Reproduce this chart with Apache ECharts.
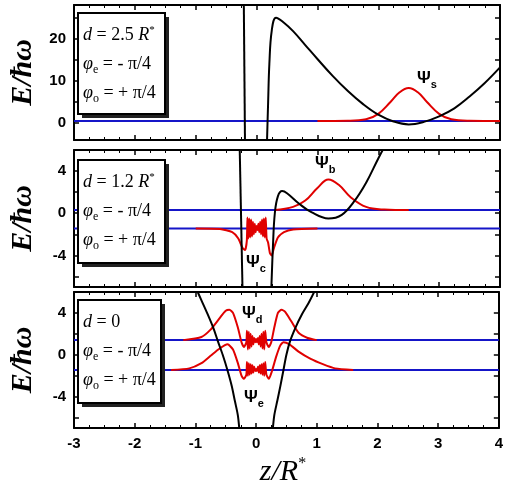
<!DOCTYPE html>
<html><head><meta charset="utf-8">
<script src="https://cdn.jsdelivr.net/npm/echarts@6/dist/echarts.min.js"></script>
<style>html,body{margin:0;padding:0;background:#fff}#c{width:506px;height:496px}</style>
</head><body><div id="c"></div>
<script>
// x tick labels
const xTicks = [-3,-2,-1,0,1,2,3,4];
// Panel 1 (d = 2.5 R*)
const V1L = [[-0.21,29],[-0.19,-5]];
const V1R = [[0.17,-5],[0.19,5],[0.21,14],[0.25,22],[0.32,25],[0.45,23.8],[0.6,21.8],[0.8,18.5],[1.0,15.2],[1.25,11.2],[1.5,7.6],[1.75,4.5],[2.0,2.0],[2.25,0.4],[2.5,-0.3],[2.75,0.3],[3.0,1.6],[3.25,3.5],[3.5,6.3],[3.75,9.5],[4.0,13.2]];
const level1 = [0.5];
const psiS = [[1.0,0.5],[1.5,0.55],[1.8,0.9],[2.0,2.2],[2.2,5.0],[2.35,7.3],[2.5,8.3],[2.65,7.3],[2.8,5.0],[3.0,2.2],[3.2,0.9],[3.5,0.55],[4.0,0.5]];
// Panel 2 (d = 1.2 R*)
const V2L = [[-0.28,7],[-0.23,-7.5]];
const V2R = [[0.24,-7.5],[0.27,-3],[0.3,0],[0.35,1.6],[0.42,2.1],[0.5,1.9],[0.7,0.9],[0.9,0.1],[1.18,-0.5],[1.4,-0.15],[1.6,1.1],[1.8,2.9],[2.0,5.2],[2.12,6.5]];
const levels2 = [0.3,-1.45];
const psiB = [[0.3,0.3],[0.6,0.6],[0.8,1.2],[1.0,2.4],[1.18,3.2],[1.35,2.7],[1.55,1.5],[1.8,0.6],[2.1,0.35],[2.5,0.3]];
const psiC = [[-1.0,-1.45],[-0.6,-1.5],[-0.4,-1.8],[-0.3,-2.4],[-0.23,-3.3],[-0.19,-3.5],[-0.16,-2.6],
 [-0.15,-0.4],[-0.135,-2.4],[-0.12,-0.5],[-0.105,-2.3],[-0.09,-0.6],[-0.075,-2.2],[-0.06,-0.8],[-0.045,-2.0],[-0.03,-1.0],[-0.015,-1.8],[0,-1.2],[0.015,-1.6],[0.03,-1.0],[0.045,-1.8],[0.06,-0.8],[0.075,-2.0],[0.09,-0.6],[0.105,-2.2],[0.12,-0.5],[0.135,-2.3],[0.15,-0.4],[0.165,-2.4],
 [0.19,-2.8],[0.22,-3.8],[0.25,-4.0],[0.28,-3.4],[0.35,-2.3],[0.45,-1.8],[0.6,-1.55],[1.0,-1.45]];
// Panel 3 (d = 0)
const V3L = [[-1.0,6.5],[-0.9,5.2],[-0.8,3.9],[-0.7,2.5],[-0.63,1.3],[-0.55,0],[-0.47,-1.5],[-0.4,-3],[-0.35,-4.4],[-0.3,-5.8],[-0.27,-7.5]];
const V3R = [[0.27,-7.5],[0.3,-5.8],[0.35,-4.4],[0.4,-3],[0.45,-1.5],[0.5,0],[0.56,1.3],[0.65,2.6],[0.75,3.8],[0.87,5.0],[1.0,6.5]];
const levels3 = [1.4,-1.45];
const psiD = [[-1.2,1.4],[-0.9,1.7],[-0.75,2.4],[-0.6,3.5],[-0.5,4.2],[-0.44,4.3],[-0.38,4.0],[-0.3,2.6],[-0.24,1.2],[-0.2,0.75],[-0.16,1.2],
 [-0.15,2.3],[-0.135,0.5],[-0.12,2.2],[-0.105,0.6],[-0.09,2.0],[-0.075,0.8],[-0.06,1.8],[-0.045,1.0],[-0.03,1.6],[-0.015,1.2],[0,1.5],[0.015,1.2],[0.03,1.6],[0.045,1.0],[0.06,1.8],[0.075,0.8],[0.09,2.0],[0.105,0.6],[0.12,2.2],[0.135,0.5],[0.15,2.3],
 [0.17,1.2],[0.21,0.75],[0.25,1.2],[0.3,2.6],[0.36,4.0],[0.42,4.3],[0.48,4.1],[0.58,3.2],[0.7,2.1],[0.85,1.6],[1.0,1.4]];
const psiE = [[-1.4,-1.45],[-1.1,-1.3],[-0.9,-0.8],[-0.75,-0.1],[-0.6,0.6],[-0.47,1.0],[-0.38,0.5],[-0.3,-0.8],[-0.24,-2.0],[-0.2,-2.3],[-0.16,-1.9],
 [-0.15,-0.7],[-0.135,-2.0],[-0.12,-0.8],[-0.105,-1.9],[-0.09,-0.9],[-0.075,-1.8],[-0.06,-1.0],[-0.045,-1.7],[-0.03,-1.15],[-0.015,-1.55],[0,-1.35],[0.015,-1.55],[0.03,-1.15],[0.045,-1.7],[0.06,-1.0],[0.075,-1.8],[0.09,-0.9],[0.105,-1.9],[0.12,-0.8],[0.135,-2.0],[0.15,-0.7],
 [0.17,-1.9],[0.21,-2.3],[0.26,-1.6],[0.33,-0.2],[0.4,0.9],[0.45,1.2],[0.55,1.0],[0.7,0.3],[0.9,-0.4],[1.1,-0.9],[1.3,-1.3],[1.6,-1.45]];
const legendD = ['2.5','1.2','0'];

const BLACK='#000', RED='#e00000', BLUE='#1515c8';
const chart = echarts.init(document.getElementById('c'));
const grids = [
  {left:66,right:6,top:5,height:135},
  {left:66,right:6,top:150,height:137},
  {left:66,right:6,top:292,height:136}
];
const yCfg = [
  {min:-4,max:28,labels:[0,10,20],ticks:[0,5,10,15,20,25]},
  {min:-7,max:6,labels:[-4,0,4],ticks:[-6,-4,-2,0,2,4]},
  {min:-7,max:6,labels:[-4,0,4],ticks:[-6,-4,-2,0,2,4]}
];
const lblFont = {fontFamily:'Liberation Sans',fontWeight:'bold',fontSize:15,color:'#000'};
const xAxis=[], yAxis=[];
grids.forEach((g,i)=>{
  xAxis.push({type:'value',gridIndex:i,min:-3,max:4,interval:1,position:'bottom',
    axisLine:{show:true,onZero:false,lineStyle:{color:BLACK,width:2}},
    axisTick:{inside:true,length:5,lineStyle:{color:BLACK,width:1.5}},
    minorTick:{show:true,splitNumber:4,length:3,lineStyle:{color:BLACK}},
    axisLabel:{show:i===2,margin:8,...lblFont},splitLine:{show:false}});
  xAxis.push({type:'value',gridIndex:i,min:-3,max:4,interval:1,position:'top',
    axisLine:{show:true,onZero:false,lineStyle:{color:BLACK,width:2}},
    axisTick:{inside:true,length:5,lineStyle:{color:BLACK,width:1.5}},
    minorTick:{show:true,splitNumber:4,length:3,lineStyle:{color:BLACK}},
    axisLabel:{show:false},splitLine:{show:false}});
  const c=yCfg[i];
  yAxis.push({type:'value',gridIndex:i,min:c.min,max:c.max,position:'left',
    name:'E/ħω',nameLocation:'middle',nameRotate:90,nameGap:36,
    nameTextStyle:{fontFamily:'Liberation Serif',fontStyle:'italic',fontWeight:'bold',fontSize:30,color:'#000'},
    axisLine:{show:true,onZero:false,lineStyle:{color:BLACK,width:2}},
    axisTick:{inside:true,length:5,customValues:c.ticks,lineStyle:{color:BLACK,width:1.5}},
    axisLabel:{customValues:c.labels,margin:8,...lblFont},splitLine:{show:false}});
  yAxis.push({type:'value',gridIndex:i,min:c.min,max:c.max,position:'right',
    axisLine:{show:true,onZero:false,lineStyle:{color:BLACK,width:2}},
    axisTick:{inside:true,length:5,customValues:c.ticks,lineStyle:{color:BLACK,width:1.5}},
    axisLabel:{show:false},splitLine:{show:false}});
});
const series=[];
function line(data,gi,color,smooth,z){
  series.push({type:'line',xAxisIndex:gi*2,yAxisIndex:gi*2,data,showSymbol:false,symbol:'none',
    smooth:smooth,lineStyle:{color,width:2},z:z||2,clip:true,animation:false});
}
function level(v,gi){ line([[-3,v],[4,v]],gi,BLUE,false,3); }
level(level1[0],0);
line(psiS,0,RED,0.4,4);
line(V1L,0,BLACK,false,5); line(V1R,0,BLACK,0.4,5);
levels2.forEach(v=>level(v,1));
line(psiB,1,RED,0.4,4); line(psiC,1,RED,0.2,4);
line(V2L,1,BLACK,false,5); line(V2R,1,BLACK,0.4,5);
levels3.forEach(v=>level(v,2));
line(psiD,2,RED,0.2,4); line(psiE,2,RED,0.2,4);
line(V3L,2,BLACK,0.3,5); line(V3R,2,BLACK,0.3,5);

const serif='Liberation Serif';
const rich={
  t:{fontFamily:serif,fontSize:18,color:'#000'},
  i:{fontFamily:serif,fontSize:18,fontStyle:'italic',color:'#000'},
  sup:{fontFamily:serif,fontSize:11,color:'#000',padding:[0,0,10,0]},
  sub:{fontFamily:serif,fontSize:12,color:'#000',padding:[12,0,0,0]}
};
const graphic=[];
const boxes=[{x:78,y:13,w:87,h:101},{x:78,y:160,w:87,h:103},{x:78,y:300,w:83,h:103}];
boxes.forEach((b,i)=>{
  graphic.push({type:'rect',shape:{x:b.x+4,y:b.y+4,width:b.w,height:b.h},style:{fill:'#222'},z:10});
  graphic.push({type:'rect',shape:{x:b.x,y:b.y,width:b.w,height:b.h},style:{fill:'#fff',stroke:'#000',lineWidth:2},z:11});
  const dtxt = i===2 ? '{i|d}{t| = 0}' : '{i|d}{t| = '+legendD[i]+' }{i|R}{sup|*}';
  const lines=[dtxt,'{i|φ}{sub|e}{t| = - π/4}','{i|φ}{sub|o}{t| = + π/4}'];
  lines.forEach((s,k)=>graphic.push({type:'text',x:b.x+5,y:b.y+22+k*29,z:12,
    style:{text:s,rich,verticalAlign:'middle'}}));
});
const psiRich={p:{fontFamily:'Liberation Sans',fontWeight:'bold',fontSize:17,color:'#000'},
  s:{fontFamily:'Liberation Sans',fontWeight:'bold',fontSize:11,color:'#000',padding:[14,0,0,0]}};
[['s',417,78],['b',315,163],['c',246,262],['d',242,313],['e',244,397]].forEach(([l,x,y])=>
  graphic.push({type:'text',x,y,z:12,style:{text:'{p|Ψ}{s|'+l+'}',rich:psiRich,verticalAlign:'middle'}}));
graphic.push({type:'text',x:283,y:472,z:12,style:{text:'{a|z/R}{b|*}',align:'center',verticalAlign:'middle',
  rich:{a:{fontFamily:serif,fontStyle:'italic',fontSize:30,color:'#000'},b:{fontFamily:serif,fontSize:16,color:'#000',padding:[0,0,16,0]}}}});

chart.setOption({animation:false,backgroundColor:'#fff',grid:grids,xAxis,yAxis,series,graphic});
</script></body></html>
